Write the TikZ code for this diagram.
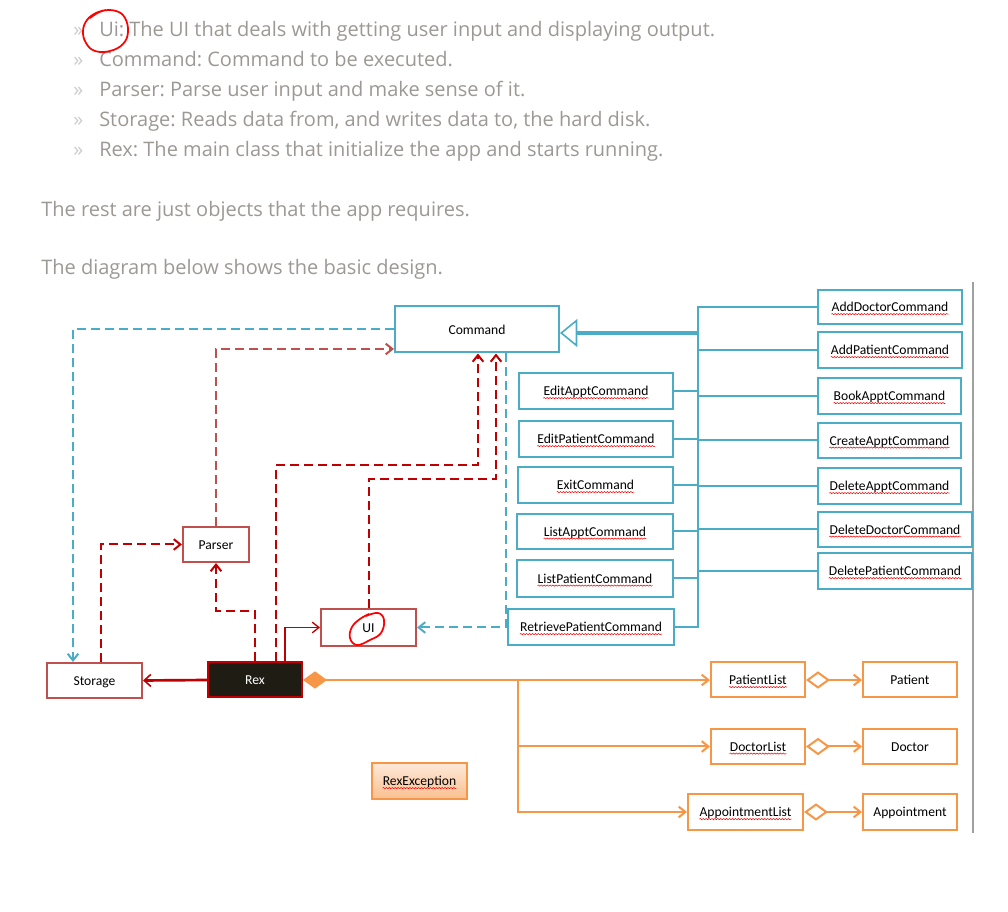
\documentclass[tikz,border=0pt]{standalone}
\usepackage{fontspec}
\setmainfont{Carlito}
\newfontfamily\osans{Open Sans}
\usetikzlibrary{arrows.meta,calc,decorations.pathmorphing}
\frenchspacing
\definecolor{aqua}{HTML}{4BACC6}
\definecolor{brick}{HTML}{C0504D}
\definecolor{dred}{HTML}{C00000}
\definecolor{orng}{HTML}{F79646}
\definecolor{peach}{HTML}{FDE9D9}
\definecolor{apricot}{HTML}{FAC090}
\definecolor{ink}{HTML}{1F1C14}
\definecolor{txtgray}{HTML}{9C9894}
\definecolor{chevgray}{HTML}{CCCCCC}
\definecolor{edgegray}{HTML}{A0A0A0}
\tikzset{
  cbox/.style={draw=aqua, line width=1.5pt},
  rbox/.style={draw=brick, line width=1.5pt},
  rexbox/.style={draw=dred, fill=ink, line width=1.5pt},
  obox/.style={draw=orng, line width=1.5pt},
  excbox/.style={draw=orng, line width=1.5pt, top color=peach, bottom color=apricot},
  lbl/.style={inner sep=0pt, text height=7.7pt, text depth=0.3pt, font=\fontsize{10.2}{12}\selectfont},
  spell/.style={red, line width=0.4pt, decorate, decoration={snake, amplitude=0.45pt, segment length=2.2pt}},
  para/.style={anchor=base west, inner sep=0pt, text=txtgray, font=\osans\fontsize{15}{18}\selectfont},
  chev/.style={para, text=chevgray},
  open/.style={-{Straight Barb[length=5pt, width=8pt]}},
  bdash/.style={aqua, line width=1.5pt, dash pattern=on 6.75pt off 3.75pt, open},
  rdash/.style={dred, line width=1.5pt, dash pattern=on 6.75pt off 3.75pt, open},
  gline/.style={aqua, line width=1.5pt},
  oline/.style={orng, line width=1.5pt},
  pen/.style={red, line width=1.3pt, line cap=round, line join=round}
}
\begin{document}
\begin{tikzpicture}[x=0.75pt, y=-0.75pt]
\useasboundingbox (0,0) rectangle (1008,912);
\def\cls#1#2#3#4#5#6#7{
\node [#1, minimum width=#5*0.75pt, minimum height=#6*0.75pt] (#2) at (#3,#4) {};
\node [lbl] (#2-t) at (#2.center) {#7};
}
\foreach \t [count=\i] in {{Ui: The UI that deals with getting user input and displaying output.},
  {Command: Command to be executed.},
  {Parser: Parse user input and make sense of it.},
  {Storage: Reads data from, and writes data to, the hard disk.},
  {Rex: The main class that initialize the app and starts running.}}{
\node [chev] (bl\i) at (73,{7+30*\i}) {»};
\node [para] (ln\i) at (99,{7+30*\i}) {\t};
}
\node [para] (rest) at (41,217) {The rest are just objects that the app requires.};
\node [para] (design) at (41,275) {The diagram below shows the basic design.};
\draw [pen] plot [smooth, tension=0.7] coordinates {(90,18) (102,11) (116,11) (125,18) (128,32) (123,44) (110,51) (95,51) (86,43) (83,31) (87,20) (96,13) (106,10)};

\draw [edgegray, line width=1.5pt] (973,282) -- (973,833);

\cls{cbox}{Command}{477}{329.5}{164}{46}{Command}
\cls{cbox}{AddDoctorCommand}{890}{307}{144}{34}{AddDoctorCommand}
\cls{cbox}{AddPatientCommand}{890}{350}{144}{36}{AddPatientCommand}
\cls{cbox}{BookApptCommand}{889.5}{396}{143}{36}{BookApptCommand}
\cls{cbox}{CreateApptCommand}{889.5}{440.5}{143}{35}{CreateApptCommand}
\cls{cbox}{DeleteApptCommand}{889.5}{486}{143}{36}{DeleteApptCommand}
\cls{cbox}{DeleteDoctorCommand}{895}{529.5}{154}{35}{DeleteDoctorCommand}
\cls{cbox}{DeletePatientCommand}{895}{571}{154}{36}{DeletePatientCommand}
\cls{cbox}{EditApptCommand}{596}{391}{154}{36}{EditApptCommand}
\cls{cbox}{EditPatientCommand}{596}{439}{154}{36}{EditPatientCommand}
\cls{cbox}{ExitCommand}{595.5}{485}{155}{36}{ExitCommand}
\cls{cbox}{ListApptCommand}{595}{531.5}{156}{35}{ListApptCommand}
\cls{cbox}{ListPatientCommand}{595}{578.5}{156}{37}{ListPatientCommand}
\cls{cbox}{RetrievePatientCommand}{591}{627}{166}{36}{RetrievePatientCommand}
\cls{rbox}{Storage}{94.5}{680.5}{95}{35}{Storage}
\cls{rexbox}{Rex}{255}{680}{94}{35}{\textcolor{white}{Rex}}
\cls{rbox}{Parser}{216}{544.5}{66}{35}{Parser}
\cls{rbox}{UI}{368.5}{627.5}{95}{37}{UI}
\cls{obox}{PatientList}{758}{680}{94}{35}{PatientList}
\cls{obox}{Patient}{910}{680}{94}{35}{Patient}
\cls{obox}{DoctorList}{758}{746.5}{94}{35}{DoctorList}
\cls{obox}{Doctor}{910}{746.5}{94}{35}{Doctor}
\cls{obox}{AppointmentList}{745.5}{812}{115}{36}{AppointmentList}
\cls{obox}{Appointment}{910}{812}{94}{36}{Appointment}
\cls{excbox}{RexException}{419.5}{781}{95}{36}{RexException}

\foreach \n in {AddDoctorCommand,AddPatientCommand,BookApptCommand,CreateApptCommand,DeleteApptCommand,DeleteDoctorCommand,DeletePatientCommand,EditApptCommand,EditPatientCommand,ExitCommand,ListApptCommand,ListPatientCommand,RetrievePatientCommand,PatientList,DoctorList,AppointmentList,RexException}
  \draw [spell] ($(\n-t.south west)+(0,1.5)$) -- ($(\n-t.south east)+(0,1.5)$);

\draw [pen] plot [smooth, tension=0.7] coordinates {(366,616) (378,613) (384,620) (381,633) (370,640) (357,645) (350,638) (352,627) (360,619) (369,614)};

\coordinate (trunk) at ($(Command.east)+(138,3.5)$);
\foreach \n in {EditApptCommand,EditPatientCommand,ExitCommand,ListApptCommand,ListPatientCommand,RetrievePatientCommand}
  \draw [gline] (\n.east) -| (trunk);
\foreach \n in {AddDoctorCommand,AddPatientCommand,BookApptCommand,CreateApptCommand,DeleteApptCommand,DeleteDoctorCommand,DeletePatientCommand}
  \draw [gline] (\n.west) -| (trunk);
\draw [aqua, line width=3pt] (trunk) -- ($(Command.east)+(16,3.5)$);
\draw [aqua, line width=1.2pt, -{Triangle[open, length=13pt, width=21pt]}] ($(Command.east)+(18,3.5)$) -- ($(Command.east)+(0,3.5)$);

\draw [bdash] (Command.west) -| ($(Storage.north)+(-21.5,0)$);
\draw [bdash] ($(Command.south)+(29,0)$) |- (UI.east);
\draw [rdash, brick] (Parser.north) |- ($(Command.west)+(0,19.5)$);
\draw [rdash] ($(Storage.north)+(6,0)$) |- (Parser.west);
\draw [rdash] (Rex.north) -- ++(0,-50) -| (Parser.south);
\draw [rdash] ($(Rex.north)+(21,0)$) -- ++(0,-196) -| ($(Command.south)+(1,0)$);
\draw [rdash] (UI.north) -- ++(0,-129) -| ($(Command.south)+(19,0)$);
\draw [dred, line width=1pt, open] ($(Rex.north)+(30,0)$) |- (UI.west);
\draw [dred, line width=2pt, -{Straight Barb[length=5pt, width=9pt, line width=1.2pt]}] (Rex.west) -- (Storage.east);

\coordinate (split) at ($(Rex.east)+(215,0)$);
\draw [oline, {Diamond[length=18pt, width=13pt]}-] (Rex.east) -- (split);
\draw [oline, open] (split) -- (PatientList.west);
\draw [oline, open] (split) |- (DoctorList.west);
\draw [oline, open] (split) |- (AppointmentList.west);
\draw [oline, {Diamond[open, length=18pt, width=13pt]}-{Straight Barb[length=5pt, width=8pt]}] (PatientList.east) -- (Patient.west);
\draw [oline, {Diamond[open, length=18pt, width=13pt]}-{Straight Barb[length=5pt, width=8pt]}] (DoctorList.east) -- (Doctor.west);
\draw [oline, {Diamond[open, length=18pt, width=13pt]}-{Straight Barb[length=5pt, width=8pt]}] (AppointmentList.east) -- (Appointment.west);
\end{tikzpicture}
\end{document}
